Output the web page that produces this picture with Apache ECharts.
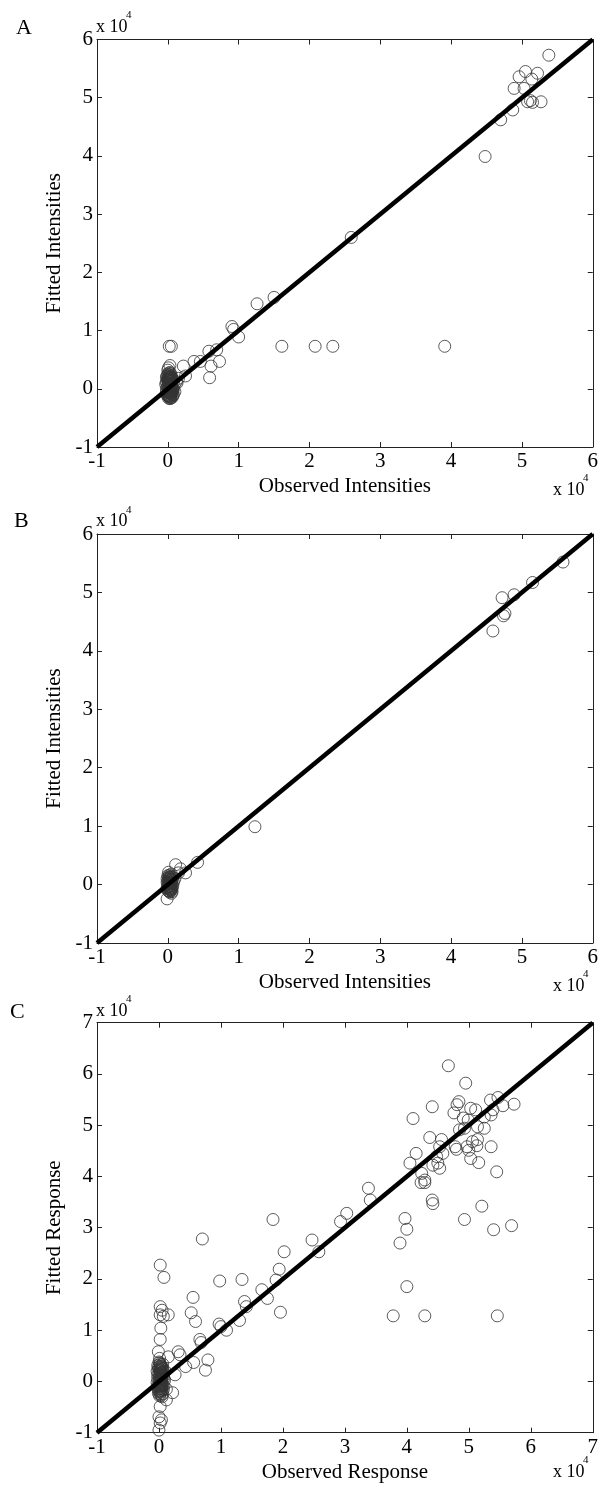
<!DOCTYPE html>
<html>
<head>
<meta charset="utf-8">
<script src="https://cdn.jsdelivr.net/npm/echarts@6/dist/echarts.min.js"></script>
<style>
html,body{margin:0;padding:0;background:#fff;}
#chart{width:601px;height:1485px;}
</style>
</head>
<body>
<div id="chart"></div>
<script>
// ---------- DATA (values in units of 10^4) ----------
const panelLetters = ['A', 'B', 'C'];
const xNames = ['Observed Intensities', 'Observed Intensities', 'Observed Response'];
const yNames = ['Fitted Intensities', 'Fitted Intensities', 'Fitted Response'];
const axisMaxAB = 6;
const axisMaxC = 7;
const axisMin = -1;

const pointsA = [
  [5.38,5.73],[4.96,5.36],[5.05,5.45],[5.22,5.42],[5.14,5.32],[4.89,5.16],[5.03,5.16],
  [5.08,4.93],[5.12,4.95],[5.15,4.92],[5.27,4.93],[4.87,4.79],[4.70,4.62],[4.48,3.99],
  [2.59,2.60],[1.26,1.46],[1.50,1.57],[0.905,1.07],[0.93,1.02],[1.00,0.89],
  [1.61,0.73],[2.08,0.73],[2.33,0.73],[3.91,0.73],
  [0.58,0.645],[0.69,0.67],[0.73,0.47],[0.61,0.39],[0.59,0.19],[0.37,0.47],[0.46,0.47],
  [0.22,0.39],[0.25,0.22],[0.13,0.10],[0.02,0.73],[0.05,0.73],[0.01,0.36],[0.03,0.40],
  [0.00,0.25],[0.02,0.22],[0.04,0.18],[-0.01,0.15],[0.01,0.12],[0.03,0.10],[0.05,0.08],
  [0.00,0.05],[0.02,0.03],[0.04,0.01],[-0.02,0.00],[0.01,-0.02],[0.03,-0.05],[0.05,-0.07],
  [0.00,-0.09],[0.02,-0.11],[0.04,-0.13],[0.06,-0.15],[0.01,-0.16],[0.08,-0.10],[0.07,0.02],
  [0.06,0.14],[-0.02,0.20],[0.03,0.28],[0.09,0.06],[0.10,-0.05],[0.12,0.12],[0.15,0.18],
  [0.00,0.32],[-0.03,0.08],[-0.02,-0.06],[0.03,0.16],[0.05,0.22],[0.01,0.19],[0.07,-0.04],[0.02,0.07],
  [0.01,0.27],[0.03,0.24],[0.05,0.20],[0.00,0.17],[0.02,0.14],[0.04,0.12],[0.06,0.10],[0.01,0.09],
  [0.03,0.06],[0.05,0.04],[0.00,0.01],[0.02,-0.01],[0.04,-0.03],[0.06,-0.05],[0.01,-0.06],[0.03,-0.08],
  [0.05,-0.10],[0.00,-0.12],[0.02,-0.14],[0.04,-0.16],[0.07,-0.12],[0.08,0.00],[0.06,0.18],[0.04,0.26],
  [-0.01,0.22],[-0.02,0.11],[-0.01,0.03],[-0.01,-0.11],[0.03,-0.17],[0.06,-0.01],[0.05,0.13],[0.02,0.20],
  [0.04,0.05],[0.02,-0.04],[0.03,0.19],[0.01,0.15],
  [0.015,0.235],[0.035,0.205],[0.025,0.165],[0.045,0.145],[0.015,0.105],[0.035,0.085],[0.025,0.045],
  [0.045,0.025],[0.015,-0.005],[0.035,-0.025],[0.025,-0.065],[0.045,-0.085],[0.015,-0.125],[0.035,-0.145],
  [0.055,0.055],[0.055,-0.025],[0.005,0.135],[0.005,-0.045]
];

const pointsB = [
  [5.58,5.52],[5.15,5.17],[4.89,4.96],[4.72,4.91],[4.74,4.60],[4.76,4.64],[4.59,4.34],
  [1.23,0.99],[0.42,0.38],[0.11,0.34],[0.18,0.27],[0.25,0.20],[0.01,0.21],[-0.01,-0.245],
  [0.15,0.20],[0.05,0.18],
  [0.00,0.15],[0.02,0.12],[0.04,0.10],[0.01,0.07],[0.03,0.05],[0.05,0.03],[0.00,0.02],
  [0.02,0.00],[0.04,-0.02],[0.01,-0.04],[0.03,-0.06],[0.05,-0.08],[0.00,-0.10],[0.02,-0.12],
  [0.06,0.08],[0.07,-0.02],[-0.01,0.10],[0.08,0.04],[0.04,0.14],[-0.01,-0.06],[0.06,-0.12],[0.10,0.10],
  [0.01,0.13],[0.03,0.11],[0.05,0.09],[0.02,0.06],[0.04,0.04],[0.01,0.01],[0.03,-0.01],[0.05,-0.04],
  [0.02,-0.07],[0.04,-0.09],[0.01,-0.11],[0.03,-0.13],[0.06,-0.06],[0.06,0.02],[0.02,0.16],[0.00,-0.03],
  [-0.01,0.04],[0.07,0.12],[0.03,0.02],[0.05,-0.15],
  [0.015,0.095],[0.035,0.075],[0.025,0.035],[0.045,0.015],[0.015,-0.025],[0.035,-0.045],[0.025,-0.085],
  [0.045,-0.105],[0.035,0.125]
];

const pointsC = [
  // upper cluster
  [4.67,6.16],[4.95,5.82],[4.41,5.36],[4.10,5.13],[4.84,5.46],[4.81,5.40],[5.47,5.54],[5.55,5.38],
  [5.73,5.41],[5.35,5.49],[5.03,5.33],[5.11,5.30],[4.76,5.24],[4.91,5.14],[4.99,5.10],[5.36,5.20],
  [5.25,5.16],[5.39,5.30],[5.14,4.97],[5.25,4.94],[4.85,4.91],[4.93,4.94],[5.14,4.72],[5.06,4.68],
  [5.36,4.58],[4.78,4.58],[4.80,4.53],[4.97,4.58],[5.00,4.51],[5.13,4.60],[4.56,4.72],[4.53,4.58],
  [4.58,4.45],[4.37,4.76],[5.03,4.35],[5.16,4.27],[5.45,4.09],[4.15,4.45],[4.05,4.26],[4.42,4.22],
  [4.50,4.26],[4.53,4.16],[4.48,4.39],[4.24,4.06],[4.29,3.93],[4.23,3.88],[4.41,3.54],[4.29,3.88],
  // below line, right
  [4.42,3.47],[3.97,3.18],[4.00,2.97],[3.89,2.70],[4.00,1.85],[3.78,1.28],[4.29,1.28],[5.46,1.28],
  [4.93,3.16],[5.21,3.42],[5.40,2.96],[5.69,3.04],
  // middle
  [3.38,3.77],[3.41,3.54],[3.03,3.28],[2.93,3.12],[2.47,2.76],[2.58,2.53],[1.84,3.16],[2.02,2.53],
  [1.94,2.19],[1.89,1.98],[1.66,1.79],[1.75,1.62],[1.96,1.35],[1.34,1.99],[0.98,1.96],[0.70,2.78],
  [1.38,1.56],[1.41,1.46],[1.30,1.19],[0.97,1.12],[1.00,1.07],[1.09,1.00],[0.55,1.64],[0.52,1.34],
  [0.59,1.17],[0.66,0.82],[0.68,0.76],[0.79,0.42],[0.75,0.22],[0.56,0.37],[0.43,0.29],[0.31,0.58],
  [0.34,0.52],[0.15,0.48],[0.22,-0.22],[0.26,0.13],[0.12,-0.36],
  // near zero column
  [0.02,2.27],[0.08,2.03],[0.02,1.46],[0.05,1.39],[0.02,1.30],[0.15,1.30],[0.07,1.27],[0.03,1.04],
  [0.02,0.82],[-0.01,0.58],[0.02,-0.49],[0.00,-0.69],[0.02,-0.81],[0.04,-0.75],[0.00,-0.95],
  [0.00,0.38],[0.02,0.34],[0.04,0.30],[-0.01,0.27],[0.01,0.24],[0.03,0.21],[0.05,0.18],[0.00,0.15],
  [0.02,0.12],[0.04,0.09],[-0.02,0.06],[0.01,0.03],[0.03,0.00],[0.05,-0.03],[0.00,-0.06],[0.02,-0.09],
  [0.04,-0.12],[-0.01,-0.15],[0.01,-0.18],[0.03,-0.21],[0.06,-0.24],[0.07,0.10],[0.08,-0.08],[0.06,0.25],
  [-0.03,0.20],[-0.03,-0.02],[0.09,0.02],[0.10,0.20],[0.12,-0.15],[0.01,0.45],[0.05,-0.30],
  [0.01,0.36],[0.03,0.32],[0.05,0.28],[0.00,0.22],[0.02,0.19],[0.04,0.16],[0.06,0.13],[0.01,0.10],
  [0.03,0.07],[0.05,0.04],[0.00,0.01],[0.02,-0.02],[0.04,-0.05],[0.06,-0.08],[0.01,-0.11],[0.03,-0.14],
  [0.05,-0.17],[0.00,-0.20],[0.02,-0.24],[0.04,-0.27],[-0.02,0.31],[-0.02,0.13],[-0.02,-0.09],[-0.01,-0.23],
  [0.07,0.20],[0.07,-0.16],[0.08,0.06],[0.03,0.27],[0.01,-0.28],[0.06,0.34],
  [0.015,0.295],[0.035,0.255],[0.025,0.175],[0.045,0.135],[0.015,0.065],[0.035,0.035],[0.025,-0.035],
  [0.045,-0.075],[0.015,-0.145],[0.035,-0.185],[0.025,0.225],[0.045,0.055],[0.015,-0.075],[0.035,-0.105]
];

const fitLineAB = [[-1,-1],[6,6]];
const fitLineC = [[-1,-1],[7,7]];

// ---------- LAYOUT ----------
const grids = [
  {left: 97, top: 39.5, width: 497.5, height: 407.5},
  {left: 97, top: 534, width: 497.5, height: 409},
  {left: 97, top: 1022.7, width: 497.5, height: 410}
];
const maxes = [axisMaxAB, axisMaxAB, axisMaxC];
const allPoints = [pointsA, pointsB, pointsC];
const lines = [fitLineAB, fitLineAB, fitLineC];

const serif = 'Liberation Serif';
const axisColor = '#222';
const tickLabel = {fontFamily: serif, fontSize: 21, color: '#000'};

const xAxis = [], yAxis = [], series = [], graphic = [];
grids.forEach((g, i) => {
  const max = maxes[i];
  xAxis.push({
    gridIndex: i, type: 'value', min: axisMin, max: max, interval: 1, position: 'bottom',
    name: xNames[i], nameLocation: 'middle', nameGap: 29,
    nameTextStyle: {fontFamily: serif, fontSize: 21, color: '#000'},
    axisLine: {show: true, onZero: false, lineStyle: {color: axisColor, width: 1}},
    axisTick: {show: true, inside: true, length: 5, lineStyle: {color: axisColor}},
    axisLabel: Object.assign({margin: 4}, tickLabel),
    splitLine: {show: false}
  });
  xAxis.push({
    gridIndex: i, type: 'value', min: axisMin, max: max, interval: 1, position: 'top',
    axisLine: {show: true, onZero: false, lineStyle: {color: axisColor, width: 1}},
    axisTick: {show: true, inside: true, length: 5, lineStyle: {color: axisColor}},
    axisLabel: {show: false}, splitLine: {show: false}
  });
  yAxis.push({
    gridIndex: i, type: 'value', min: axisMin, max: max, interval: 1, position: 'left',
    name: yNames[i], nameLocation: 'middle', nameGap: 22, nameRotate: 90,
    nameTextStyle: {fontFamily: serif, fontSize: 21, color: '#000'},
    axisLine: {show: true, onZero: false, lineStyle: {color: axisColor, width: 1}},
    axisTick: {show: true, inside: true, length: 5, lineStyle: {color: axisColor}},
    axisLabel: Object.assign({margin: 4}, tickLabel),
    splitLine: {show: false}
  });
  yAxis.push({
    gridIndex: i, type: 'value', min: axisMin, max: max, interval: 1, position: 'right',
    axisLine: {show: true, onZero: false, lineStyle: {color: axisColor, width: 1}},
    axisTick: {show: true, inside: true, length: 5, lineStyle: {color: axisColor}},
    axisLabel: {show: false}, splitLine: {show: false}
  });
  series.push({
    type: 'scatter', xAxisIndex: 2 * i, yAxisIndex: 2 * i, data: allPoints[i],
    symbol: 'circle', symbolSize: 12, silent: true,
    itemStyle: {color: 'rgba(0,0,0,0)', borderColor: '#333', borderWidth: 1},
    z: 2
  });
  series.push({
    type: 'line', xAxisIndex: 2 * i, yAxisIndex: 2 * i, data: lines[i],
    symbol: 'none', silent: true,
    lineStyle: {color: '#000', width: 4.5}, z: 3
  });
});

const topMult = [28, 522.5, 1012];
const botMult = [491, 987, 1473];
const letterY = [29, 522, 1013];
const letterX = [24, 22, 18];
for (let i = 0; i < 3; i++) {
  graphic.push({type: 'text', left: 96, top: topMult[i] - 10,
    style: {text: 'x 10', font: '18px "Liberation Serif"', fill: '#000'}});
  graphic.push({type: 'text', left: 126, top: topMult[i] - 18,
    style: {text: '4', font: '11px "Liberation Serif"', fill: '#000'}});
  graphic.push({type: 'text', left: 553, top: botMult[i] - 10,
    style: {text: 'x 10', font: '18px "Liberation Serif"', fill: '#000'}});
  graphic.push({type: 'text', left: 583, top: botMult[i] - 18,
    style: {text: '4', font: '11px "Liberation Serif"', fill: '#000'}});
  graphic.push({type: 'text', left: letterX[i] - 8, top: letterY[i] - 12,
    style: {text: panelLetters[i], font: '22px "Liberation Serif"', fill: '#000'}});
}

const chart = echarts.init(document.getElementById('chart'), null, {renderer: 'canvas'});
chart.setOption({
  animation: false,
  backgroundColor: '#fff',
  grid: grids,
  xAxis: xAxis,
  yAxis: yAxis,
  series: series,
  graphic: graphic
});
</script>
</body>
</html>
